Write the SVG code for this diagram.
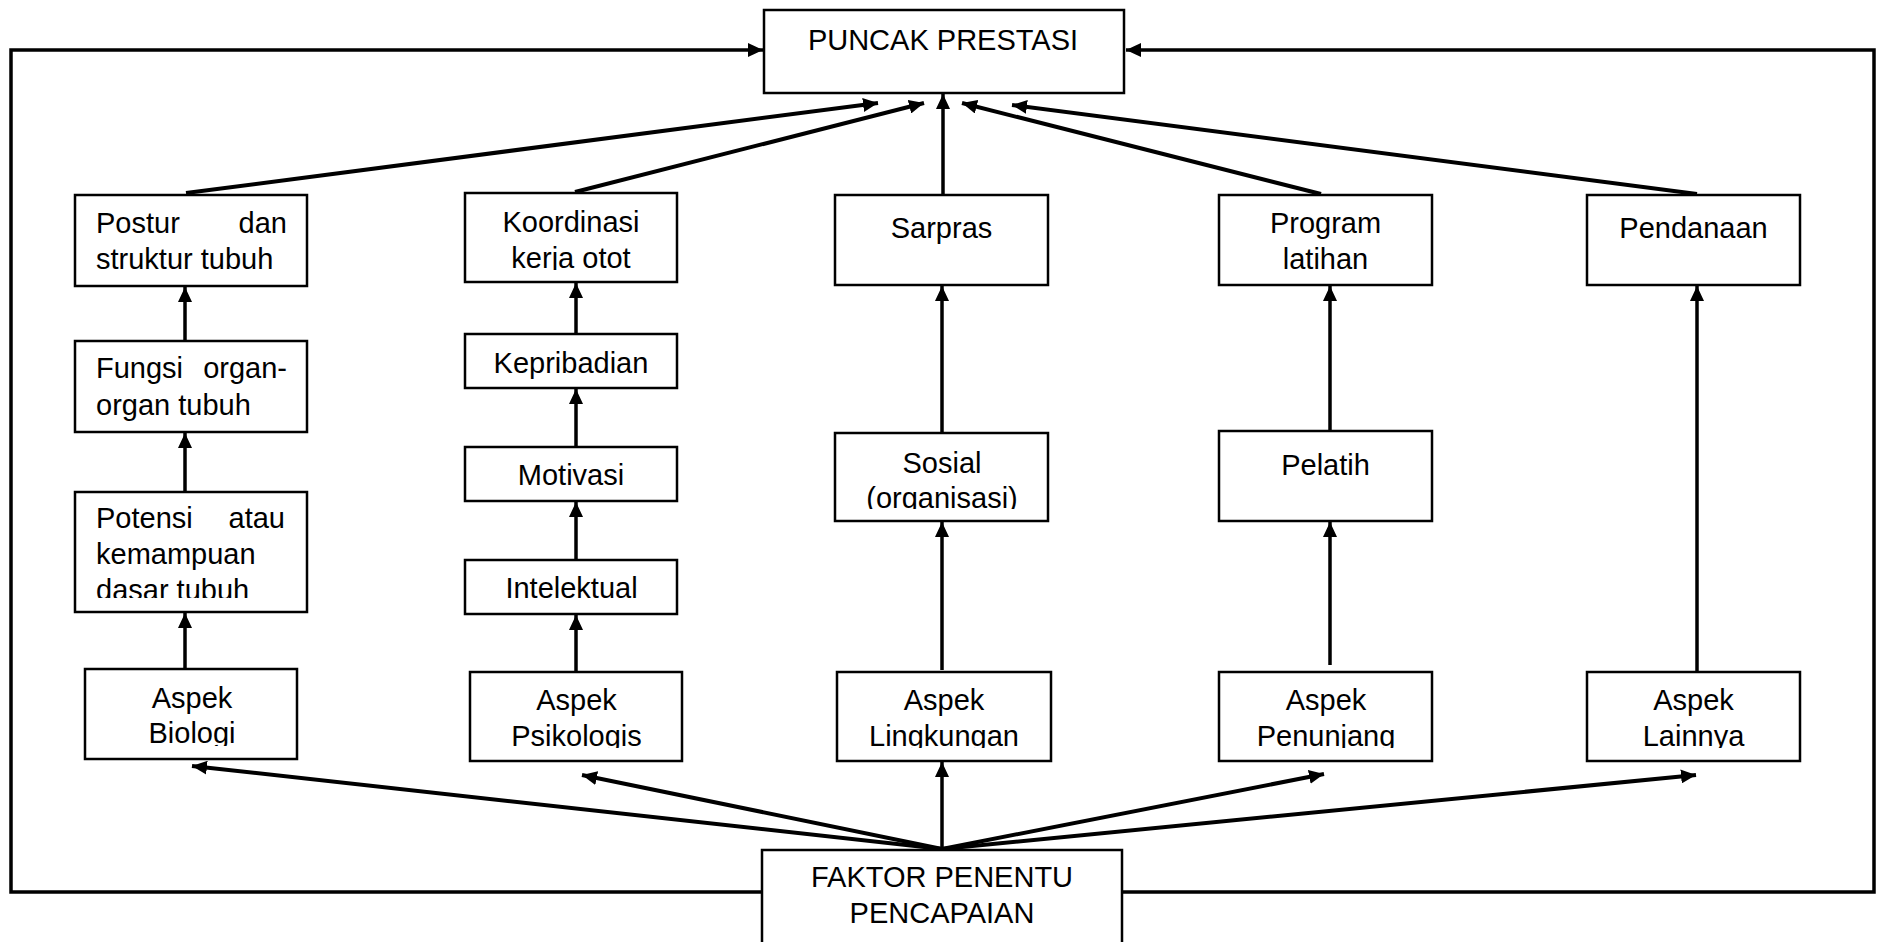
<svg xmlns="http://www.w3.org/2000/svg" width="1878" height="942" viewBox="0 0 1878 942">
<style>
rect.box{fill:#fff;stroke:#000;stroke-width:2.5}
text{font-family:"Liberation Sans",Arial,sans-serif;font-size:29px;fill:#000}
.c{text-anchor:middle}
.ln{fill:none;stroke:#000;stroke-width:3.5}
.dg{fill:none;stroke:#000;stroke-width:4}
.lp{fill:none;stroke:#000;stroke-width:3.5}
</style>
<defs>
<marker id="ah" markerUnits="userSpaceOnUse" markerWidth="16" markerHeight="14" refX="15" refY="7" orient="auto">
<path d="M0,0 L15,7 L0,14 z" fill="#000"/>
</marker>
<clipPath id="cKoor" clipPathUnits="userSpaceOnUse"><rect x="465" y="192" width="213" height="78"/></clipPath>
<clipPath id="cPot" clipPathUnits="userSpaceOnUse"><rect x="74" y="491" width="234" height="107"/></clipPath>
<clipPath id="cSos" clipPathUnits="userSpaceOnUse"><rect x="835" y="432" width="213" height="77"/></clipPath>
<clipPath id="cBio" clipPathUnits="userSpaceOnUse"><rect x="85" y="668" width="212" height="78"/></clipPath>
<clipPath id="cAsp" clipPathUnits="userSpaceOnUse"><rect x="0" y="671" width="1878" height="77"/></clipPath>
</defs>

<g id="connectors">
<path class="lp" d="M762,892 H11 V50 H763" marker-end="url(#ah)"/>
<path class="lp" d="M1122,892 H1874 V50 H1126" marker-end="url(#ah)"/>
<line class="dg" x1="186" y1="193" x2="878" y2="103" marker-end="url(#ah)"/>
<line class="dg" x1="575" y1="192" x2="924" y2="103" marker-end="url(#ah)"/>
<line class="ln" x1="943" y1="195" x2="943" y2="94" marker-end="url(#ah)"/>
<line class="dg" x1="1321" y1="194" x2="962" y2="103" marker-end="url(#ah)"/>
<line class="dg" x1="1697" y1="194" x2="1012" y2="105" marker-end="url(#ah)"/>
<line class="ln" x1="185" y1="341" x2="185" y2="287" marker-end="url(#ah)"/>
<line class="ln" x1="185" y1="492" x2="185" y2="433" marker-end="url(#ah)"/>
<line class="ln" x1="185" y1="669" x2="185" y2="613" marker-end="url(#ah)"/>
<line class="ln" x1="576" y1="334" x2="576" y2="283" marker-end="url(#ah)"/>
<line class="ln" x1="576" y1="447" x2="576" y2="389" marker-end="url(#ah)"/>
<line class="ln" x1="576" y1="560" x2="576" y2="502" marker-end="url(#ah)"/>
<line class="ln" x1="576" y1="672" x2="576" y2="615" marker-end="url(#ah)"/>
<line class="ln" x1="942" y1="433" x2="942" y2="286" marker-end="url(#ah)"/>
<line class="ln" x1="942" y1="670" x2="942" y2="522" marker-end="url(#ah)"/>
<line class="ln" x1="1330" y1="431" x2="1330" y2="286" marker-end="url(#ah)"/>
<line class="ln" x1="1330" y1="665" x2="1330" y2="522" marker-end="url(#ah)"/>
<line class="ln" x1="1697" y1="672" x2="1697" y2="286" marker-end="url(#ah)"/>
<line class="dg" x1="942" y1="849" x2="192" y2="766" marker-end="url(#ah)"/>
<line class="dg" x1="942" y1="849" x2="582" y2="775" marker-end="url(#ah)"/>
<line class="ln" x1="942" y1="849" x2="942" y2="762" marker-end="url(#ah)"/>
<line class="dg" x1="942" y1="849" x2="1324" y2="774" marker-end="url(#ah)"/>
<line class="dg" x1="942" y1="849" x2="1696" y2="775" marker-end="url(#ah)"/>
</g>

<g id="puncak">
<rect class="box" x="764" y="10" width="360" height="83"/>
<text class="c" x="943" y="50">PUNCAK PRESTASI</text>
</g>

<g id="postur">
<rect class="box" x="75" y="195" width="232" height="91"/>
<text y="233"><tspan x="96">Postur</tspan><tspan x="287" text-anchor="end">dan</tspan></text>
<text x="96" y="269">struktur tubuh</text>
</g>

<g id="koordinasi">
<rect class="box" x="465" y="193" width="212" height="89"/>
<g clip-path="url(#cKoor)">
<text class="c" x="571" y="231.5">Koordinasi</text>
<text class="c" x="571" y="267.5">kerja otot</text>
</g>
</g>

<g id="sarpras">
<rect class="box" x="835" y="195" width="213" height="90"/>
<text class="c" x="941.5" y="238">Sarpras</text>
</g>

<g id="program">
<rect class="box" x="1219" y="195" width="213" height="90"/>
<text class="c" x="1325.5" y="233">Program</text>
<text class="c" x="1325.5" y="269">latihan</text>
</g>

<g id="pendanaan">
<rect class="box" x="1587" y="195" width="213" height="90"/>
<text class="c" x="1693.5" y="238">Pendanaan</text>
</g>

<g id="fungsi">
<rect class="box" x="75" y="341" width="232" height="91"/>
<text y="378"><tspan x="96">Fungsi</tspan><tspan x="287" text-anchor="end">organ-</tspan></text>
<text x="96" y="415">organ tubuh</text>
</g>

<g id="kepribadian">
<rect class="box" x="465" y="334" width="212" height="54"/>
<text class="c" x="571" y="372.5">Kepribadian</text>
</g>

<g id="motivasi">
<rect class="box" x="465" y="447" width="212" height="54"/>
<text class="c" x="571" y="485">Motivasi</text>
</g>

<g id="intelektual">
<rect class="box" x="465" y="560" width="212" height="54"/>
<text class="c" x="571.5" y="598">Intelektual</text>
</g>

<g id="potensi">
<rect class="box" x="75" y="492" width="232" height="120"/>
<g clip-path="url(#cPot)">
<text y="528"><tspan x="96">Potensi</tspan><tspan x="285" text-anchor="end">atau</tspan></text>
<text x="96" y="563.5">kemampuan</text>
<text x="96" y="599.5">dasar tubuh</text>
</g>
</g>

<g id="sosial">
<rect class="box" x="835" y="433" width="213" height="88"/>
<g clip-path="url(#cSos)">
<text class="c" x="942" y="473">Sosial</text>
<text class="c" x="942" y="508">(organisasi)</text>
</g>
</g>

<g id="pelatih">
<rect class="box" x="1219" y="431" width="213" height="90"/>
<text class="c" x="1325.5" y="475">Pelatih</text>
</g>

<g id="biologi">
<rect class="box" x="85" y="669" width="212" height="90"/>
<g clip-path="url(#cBio)">
<text class="c" x="192" y="708">Aspek</text>
<text class="c" x="192" y="743">Biologi</text>
</g>
</g>

<g id="psikologis">
<rect class="box" x="470" y="672" width="212" height="89"/>
<g clip-path="url(#cAsp)">
<text class="c" x="576.5" y="710">Aspek</text>
<text class="c" x="576.5" y="746">Psikologis</text>
</g>
</g>

<g id="lingkungan">
<rect class="box" x="837" y="672" width="214" height="89"/>
<g clip-path="url(#cAsp)">
<text class="c" x="944" y="710">Aspek</text>
<text class="c" x="944" y="746">Lingkungan</text>
</g>
</g>

<g id="penunjang">
<rect class="box" x="1219" y="672" width="213" height="89"/>
<g clip-path="url(#cAsp)">
<text class="c" x="1326" y="710">Aspek</text>
<text class="c" x="1326" y="746">Penunjang</text>
</g>
</g>

<g id="lainnya">
<rect class="box" x="1587" y="672" width="213" height="89"/>
<g clip-path="url(#cAsp)">
<text class="c" x="1693.5" y="710">Aspek</text>
<text class="c" x="1693.5" y="746">Lainnya</text>
</g>
</g>

<g id="faktor">
<rect class="box" x="762" y="850" width="360" height="96"/>
<text class="c" x="942" y="887">FAKTOR PENENTU</text>
<text class="c" x="942" y="923">PENCAPAIAN</text>
</g>
</svg>
